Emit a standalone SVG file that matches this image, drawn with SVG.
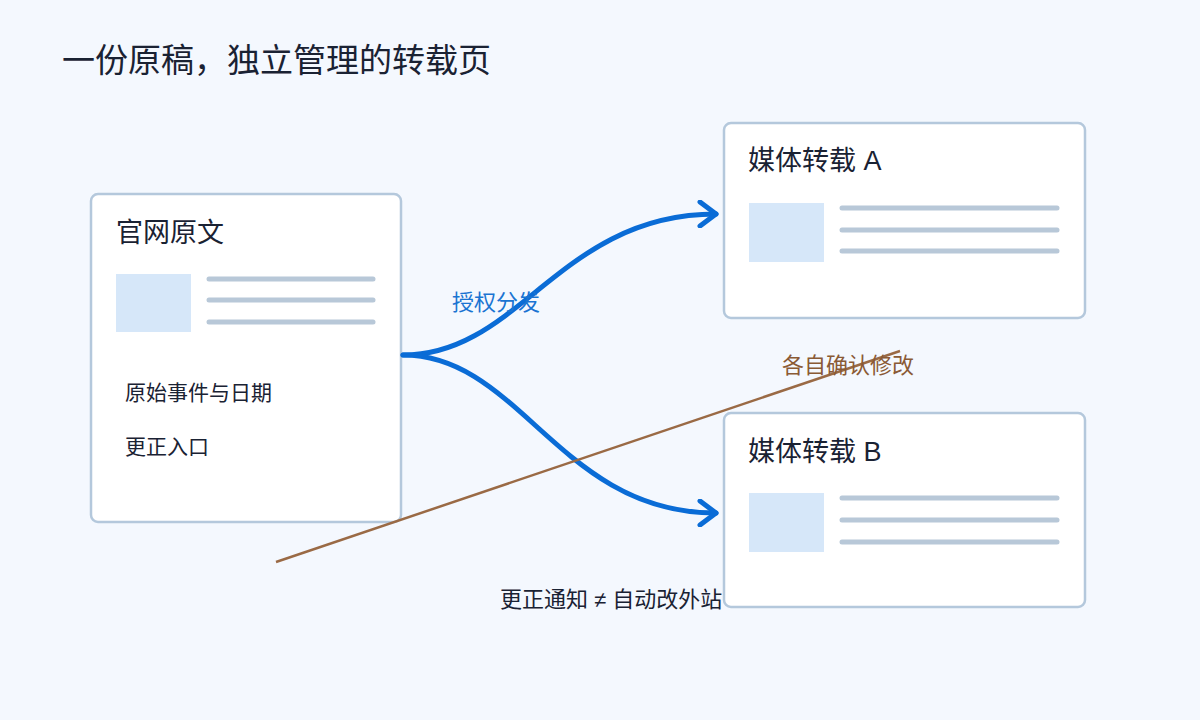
<svg xmlns="http://www.w3.org/2000/svg" width="1200" height="720" viewBox="0 0 1200 720">
<style>
text{font-family:"Liberation Sans","Noto Sans CJK SC",sans-serif;fill:#1a2233}
.card{fill:#fff;stroke:#b4c8dc;stroke-width:2.5}
.img{fill:#d6e7f9}
.ln{stroke:#b8c8d8;stroke-width:5;stroke-linecap:round}
.flow{fill:none;stroke:#0a6cd6;stroke-width:5;stroke-linecap:round}
</style>
<defs><marker id="ah" viewBox="0 0 10 10" refX="7" refY="5" markerWidth="5" markerHeight="5" orient="auto" markerUnits="userSpaceOnUse"><path d="M1 1L7 5L1 9" fill="none" stroke="#0a6cd6" stroke-width="2"/></marker>
<marker id="a2" viewBox="0 0 24 28" refX="20" refY="14" markerWidth="24" markerHeight="28" orient="auto" markerUnits="userSpaceOnUse"><path d="M4 2L20 14L4 26" fill="none" stroke="#0a6cd6" stroke-width="5" stroke-linecap="round" stroke-linejoin="round"/></marker></defs>
<rect width="1200" height="720" fill="#f4f8fe"/>
<text x="62" y="72" font-size="33">一份原稿，独立管理的转载页</text>
<g id="origin"><rect class="card" x="91" y="194" width="310" height="328" rx="7"/>
<text x="116" y="242" font-size="27">官网原文</text>
<rect class="img" x="116" y="274" width="75" height="58"/>
<line class="ln" x1="209" y1="279" x2="373" y2="279"/><line class="ln" x1="209" y1="300" x2="373" y2="300"/><line class="ln" x1="209" y1="322" x2="373" y2="322"/>
<text x="125" y="400" font-size="21">原始事件与日期</text>
<text x="125" y="454" font-size="21">更正入口</text></g>
<g id="mediaA"><rect class="card" x="724" y="123" width="361" height="195" rx="7"/>
<text x="748" y="170" font-size="27">媒体转载 A</text>
<rect class="img" x="749" y="203" width="75" height="59"/>
<line class="ln" x1="842" y1="208" x2="1057" y2="208"/><line class="ln" x1="842" y1="230" x2="1057" y2="230"/><line class="ln" x1="842" y1="251" x2="1057" y2="251"/></g>
<g id="mediaB"><rect class="card" x="724" y="413" width="361" height="194" rx="7"/>
<text x="748" y="461" font-size="27">媒体转载 B</text>
<rect class="img" x="749" y="493" width="75" height="59"/>
<line class="ln" x1="842" y1="498" x2="1057" y2="498"/><line class="ln" x1="842" y1="520" x2="1057" y2="520"/><line class="ln" x1="842" y1="542" x2="1057" y2="542"/></g>
<g id="connectors">
<path class="flow" d="M403 355C520 355 560 214 716 214" marker-end="url(#a2)"/>
<path class="flow" d="M403 355C520 355 560 513 716 513" marker-end="url(#a2)"/>
<line x1="276" y1="562" x2="900" y2="351" stroke="#9a6a45" stroke-width="2.5"/>
<text x="452" y="310" font-size="22" style="fill:#1a74d2">授权分发</text>
<text x="782" y="373" font-size="22" style="fill:#8a5a35">各自确认修改</text>
<text x="500" y="607" font-size="22">更正通知 ≠ 自动改外站</text>
</g>
</svg>
